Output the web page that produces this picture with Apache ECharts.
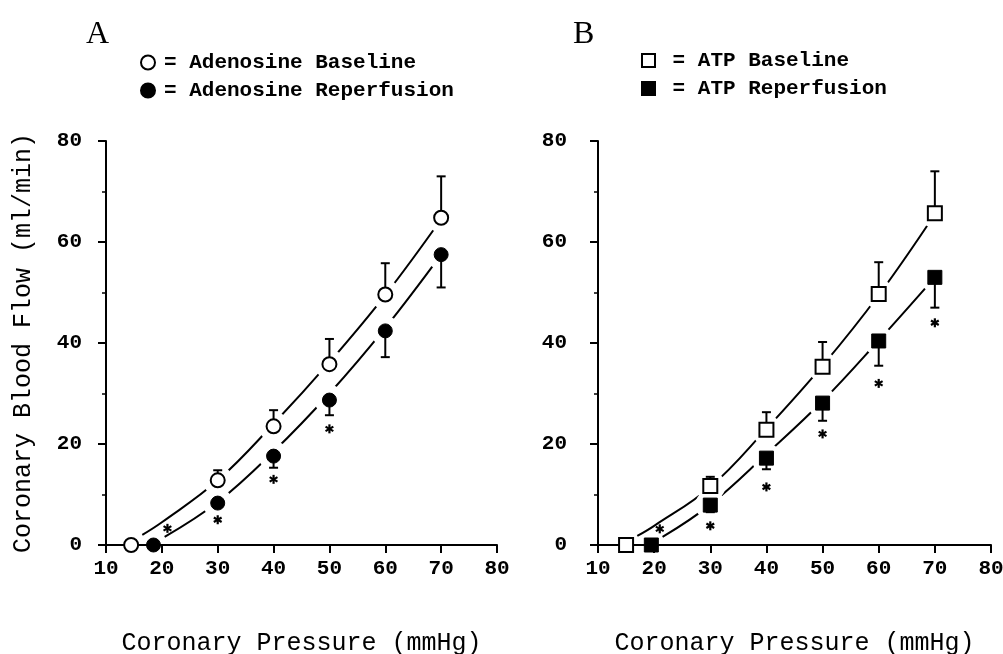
<!DOCTYPE html>
<html>
<head>
<meta charset="utf-8">
<script src="https://cdn.jsdelivr.net/npm/echarts@6/dist/echarts.min.js"></script>
<style>
  html, body { margin: 0; padding: 0; background: #fff; }
  #chart { width: 1003px; height: 654px; }
</style>
</head>
<body>
<div id="chart"></div>
<script>
// ---- data ----
// panel A, adenosine: [pressure, flow]
var adoBase = [[14.5, 0], [30, 12.8], [40, 23.5], [50, 35.8], [60, 49.6], [70, 64.8]];
var adoBaseErr = [0, 2.0, 3.2, 5.0, 6.2, 8.2];     // SE, drawn upward
var adoRep = [[18.5, 0], [30, 8.3], [40, 17.6], [50, 28.7], [60, 42.4], [70, 57.5]];
var adoRepErr = [0, 0.8, 2.3, 3.0, 5.2, 6.5];       // SE, drawn downward
var adoStars = [[21, 3.3], [30, 5.0], [40, 13.0], [50, 23.0]];
// fitted curves (panel A)
var adoBaseFit = [[16.5, 2], [20, 4.5], [30, 12.8], [40, 24], [50, 36.2], [60, 49.5], [70, 64.5]];
var adoRepFit = [[20.5, 1.6], [30, 8.5], [40, 18.5], [50, 30], [60, 43], [70, 57.5]];

// panel B, ATP
var atpBase = [[15, 0], [30, 11.7], [40, 22.8], [50, 35.3], [60, 49.7], [70, 65.7]];
var atpBaseErr = [0, 1.8, 3.5, 4.9, 6.3, 8.3];
var atpRep = [[19.5, 0], [30, 7.9], [40, 17.2], [50, 28.1], [60, 40.4], [70, 53.0]];
var atpRepErr = [0, 1.4, 2.2, 3.5, 4.9, 6.0];
var atpStars = [[21, 3.2], [30, 3.8], [40, 11.5], [50, 22], [60, 32], [70, 44]];
var atpBaseFit = [[17, 1.8], [20, 3.8], [30, 11.5], [40, 23], [50, 35.5], [60, 49.5], [70, 65.5]];
var atpRepFit = [[21.5, 1.6], [30, 8], [40, 18], [50, 28.5], [60, 40.5], [70, 53]];

var xTicks = [10, 20, 30, 40, 50, 60, 70, 80];

var MONO = 'Liberation Mono';

// attach the error to each point
function withErr(pts, err) {
  return pts.map(function (p, i) { return [p[0], p[1], err[i]]; });
}

// points that get a white gap cut into the fitted curves
function halo(a, b) {
  return a.concat(b).filter(function (p) { return p[1] > 0; });
}

function errorBar(dir) {
  return function (params, api) {
    var x = api.value(0), y = api.value(1), e = api.value(2);
    if (!e) return;
    var p0 = api.coord([x, y]);
    var p1 = api.coord([x, y + dir * e]);
    return {
      type: 'group',
      children: [
        { type: 'line', shape: { x1: p0[0], y1: p0[1], x2: p1[0], y2: p1[1] }, style: { stroke: '#000', lineWidth: 2 } },
        { type: 'line', shape: { x1: p1[0] - 4.5, y1: p1[1], x2: p1[0] + 4.5, y2: p1[1] }, style: { stroke: '#000', lineWidth: 2 } }
      ]
    };
  };
}

function asterisk(params, api) {
  var c = api.coord([api.value(0), api.value(1)]);
  var r = 4.5, kids = [];
  [90, 30, 150].forEach(function (a) {
    var rad = a * Math.PI / 180;
    kids.push({
      type: 'line',
      shape: { x1: c[0] - r * Math.cos(rad), y1: c[1] - r * Math.sin(rad), x2: c[0] + r * Math.cos(rad), y2: c[1] + r * Math.sin(rad) },
      style: { stroke: '#000', lineWidth: 2.2 }
    });
  });
  return { type: 'group', children: kids };
}

// white disc under each marker so the fitted curve breaks there
function gap(params, api) {
  var c = api.coord([api.value(0), api.value(1)]);
  return { type: 'circle', shape: { cx: c[0], cy: c[1], r: 15 }, style: { fill: '#fff' } };
}

function xAxisOf(idx) {
  return {
    gridIndex: idx, type: 'value', min: 10, max: 80, interval: 10,
    name: 'Coronary Pressure (mmHg)', nameLocation: 'middle', nameGap: 86,
    nameTextStyle: { fontFamily: MONO, fontSize: 25, color: '#000' },
    axisLine: { onZero: false, lineStyle: { color: '#000', width: 2 } },
    axisTick: { length: 8, lineStyle: { color: '#000', width: 2 } },
    axisLabel: {
      margin: 13, color: '#000', fontFamily: MONO, fontWeight: 'bold', fontSize: 21,
      customValues: xTicks
    },
    splitLine: { show: false }
  };
}

function yAxisOf(idx, margin) {
  return {
    gridIndex: idx, type: 'value', min: 0, max: 80, interval: 20,
    axisLine: { onZero: false, lineStyle: { color: '#000', width: 2 } },
    axisTick: { length: 8, lineStyle: { color: '#000', width: 2 } },
    minorTick: { show: true, splitNumber: 2, length: 4, lineStyle: { color: '#000', width: 1.5 } },
    axisLabel: { margin: margin, color: '#000', fontFamily: MONO, fontWeight: 'bold', fontSize: 21 },
    splitLine: { show: false }
  };
}

function panelSeries(idx, baseName, repName, baseSym, repSym, base, baseErr, rep, repErr, stars, baseFit, repFit) {
  var list = [
    { type: 'line', data: baseFit, smooth: 0.4, symbol: 'none', z: 2, lineStyle: { color: '#000', width: 2 } },
    { type: 'line', data: repFit, smooth: 0.4, symbol: 'none', z: 2, lineStyle: { color: '#000', width: 2 } },
    { type: 'custom', data: halo(base, rep), renderItem: gap, silent: true, z: 3 },
    { type: 'custom', data: withErr(base, baseErr), renderItem: errorBar(1), z: 4 },
    { type: 'custom', data: withErr(rep, repErr), renderItem: errorBar(-1), z: 4 },
    { type: 'scatter', name: baseName, data: base, symbol: baseSym, symbolSize: 14, z: 5,
      itemStyle: { color: '#fff', borderColor: '#000', borderWidth: 2, opacity: 1 } },
    { type: 'scatter', name: repName, data: rep, symbol: repSym, symbolSize: 14, z: 5,
      itemStyle: { color: '#000', borderColor: '#000', borderWidth: 1, opacity: 1 } },
    { type: 'custom', data: stars, renderItem: asterisk, z: 6 }
  ];
  list.forEach(function (s) { s.xAxisIndex = idx; s.yAxisIndex = idx; });
  return list;
}

var chart = echarts.init(document.getElementById('chart'));

chart.setOption({
  backgroundColor: '#fff',
  animation: false,
  title: [
    { text: 'A', left: 86, top: 19, padding: 0, textStyle: { fontFamily: 'Liberation Serif', fontWeight: 'normal', fontSize: 32, color: '#000' } },
    { text: 'B', left: 573, top: 19, padding: 0, textStyle: { fontFamily: 'Liberation Serif', fontWeight: 'normal', fontSize: 32, color: '#000' } }
  ],
  legend: [
    {
      data: ['Adenosine Baseline', 'Adenosine Reperfusion'],
      orient: 'vertical', left: 140, top: 52, padding: 0, itemGap: 7,
      itemWidth: 14, itemHeight: 14, selectedMode: false,
      formatter: '= {name}',
      textStyle: { fontFamily: MONO, fontWeight: 'bold', fontSize: 21, lineHeight: 21, color: '#000', padding: [0, 0, 0, 4] }
    },
    {
      data: ['ATP Baseline', 'ATP Reperfusion'],
      orient: 'vertical', left: 641, top: 50, padding: 0, itemGap: 7,
      itemWidth: 13, itemHeight: 13, selectedMode: false,
      formatter: ' = {name}',
      textStyle: { fontFamily: MONO, fontWeight: 'bold', fontSize: 21, lineHeight: 21, color: '#000' }
    }
  ],
  grid: [
    { left: 106, top: 141, width: 391, height: 404, outerBoundsMode: 'none' },
    { left: 598, top: 141, width: 393, height: 404, outerBoundsMode: 'none' }
  ],
  xAxis: [xAxisOf(0), xAxisOf(1)],
  yAxis: [
    Object.assign(yAxisOf(0, 24), {
      name: 'Coronary Blood Flow (ml/min)', nameLocation: 'middle', nameRotate: 90, nameGap: 70,
      nameTextStyle: { fontFamily: MONO, fontSize: 25, color: '#000' }
    }),
    yAxisOf(1, 31)
  ],
  series: panelSeries(0, 'Adenosine Baseline', 'Adenosine Reperfusion', 'circle', 'circle',
      adoBase, adoBaseErr, adoRep, adoRepErr, adoStars, adoBaseFit, adoRepFit)
    .concat(panelSeries(1, 'ATP Baseline', 'ATP Reperfusion', 'rect', 'rect',
      atpBase, atpBaseErr, atpRep, atpRepErr, atpStars, atpBaseFit, atpRepFit))
});
</script>
</body>
</html>
